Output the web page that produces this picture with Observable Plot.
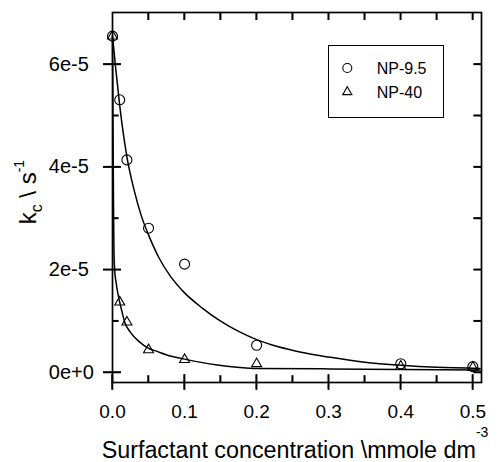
<!DOCTYPE html>
<html>
<head>
<meta charset="utf-8">
<script src="https://cdn.jsdelivr.net/npm/d3@7"></script>
<script src="https://cdn.jsdelivr.net/npm/@observablehq/plot@0.6"></script>
<style>
  html, body { margin: 0; padding: 0; background: #fff; }
</style>
</head>
<body>
<div id="chart"></div>
<script>
// ---- data ----
const seriesNames = ["NP-9.5", "NP-40"];
const conc = [0, 0.01, 0.02, 0.05, 0.1, 0.2, 0.4, 0.5];
const kNP95 = [6.55e-5, 5.31e-5, 4.14e-5, 2.81e-5, 2.11e-5, 0.53e-5, 0.17e-5, 0.115e-5];
const kNP40 = [6.55e-5, 1.37e-5, 0.98e-5, 0.44e-5, 0.25e-5, 0.17e-5, 0.12e-5, 0.10e-5];

// fitted curves
const fitX95 = [0, 0.005, 0.01, 0.015, 0.02, 0.03, 0.04, 0.05, 0.065, 0.08, 0.1, 0.125, 0.15, 0.175, 0.2, 0.23, 0.26, 0.3, 0.35, 0.4, 0.45, 0.51];
const fitY95 = [6.55e-5, 5.85e-5, 5.2e-5, 4.65e-5, 4.2e-5, 3.55e-5, 3.05e-5, 2.68e-5, 2.22e-5, 1.88e-5, 1.55e-5, 1.25e-5, 1.0e-5, 0.8e-5, 0.64e-5, 0.5e-5, 0.4e-5, 0.3e-5, 0.2e-5, 0.14e-5, 0.1e-5, 0.08e-5];
const fitX40 = [0, 0.0005, 0.001, 0.0015, 0.002, 0.003, 0.005, 0.008, 0.012, 0.017, 0.025, 0.037, 0.05, 0.06, 0.08, 0.1, 0.143, 0.196, 0.3, 0.4, 0.51];
const fitY40 = [6.55e-5, 5.3e-5, 4.1e-5, 3.1e-5, 2.4e-5, 2.0e-5, 1.75e-5, 1.5e-5, 1.25e-5, 0.98e-5, 0.78e-5, 0.6e-5, 0.47e-5, 0.42e-5, 0.32e-5, 0.26e-5, 0.15e-5, 0.08e-5, 0.07e-5, 0.06e-5, 0.05e-5];

// ticks
const xTickValues = [0, 0.1, 0.2, 0.3, 0.4, 0.5];
const xTickLabels = ["0.0", "0.1", "0.2", "0.3", "0.4", "0.5"];
const xMinorTicks = [0.05, 0.15, 0.25, 0.35, 0.45];
const xTopTicks = [0.05, 0.1, 0.15, 0.2, 0.25, 0.3, 0.35, 0.4, 0.45, 0.5];
const yTickValues = [0, 2e-5, 4e-5, 6e-5];
const yTickLabels = ["0e+0", "2e-5", "4e-5", "6e-5"];
const yMinorTicks = [1e-5, 3e-5, 5e-5];
const yRightTicks = [0, 1e-5, 2e-5, 3e-5, 4e-5, 5e-5, 6e-5];

const xLabel = "Surfactant concentration \\mmole dm";
const xLabelSup = "-3";
const yLabelParts = ["k", "c", " \\ s", "-1"];

// ---- build tables ----
const pts95 = conc.map((x, i) => ({x, y: kNP95[i]}));
const pts40 = conc.map((x, i) => ({x, y: kNP40[i]}));
const fit95 = fitX95.map((x, i) => ({x, y: fitY95[i]}));
const fit40 = fitX40.map((x, i) => ({x, y: fitY40[i]}));

const FONT = "'Liberation Sans', Arial, Helvetica, sans-serif";
const W = 498, H = 462, ML = 112, MR = 17, MT = 12, MB = 80;
const FW = W - ML - MR, FH = H - MT - MB;
const TK = {stroke: "#000", strokeWidth: 1.6};

const plot = Plot.plot({
  width: W,
  height: H,
  marginLeft: ML,
  marginRight: MR,
  marginTop: MT,
  marginBottom: MB,
  x: {domain: [0, 0.512]},
  y: {domain: [-0.195e-5, 7.01e-5]},
  style: {fontFamily: FONT, color: "black", background: "white"},
  marks: [
    // data
    Plot.line(fit95, {x: "x", y: "y", curve: "monotone-x", stroke: "black", strokeWidth: 1.5}),
    Plot.line(fit40, {x: "x", y: "y", curve: "monotone-x", stroke: "black", strokeWidth: 1.5}),
    Plot.dot(pts95, {x: "x", y: "y", r: 5, symbol: "circle", fill: "none", stroke: "black", strokeWidth: 1.1}),
    Plot.dot(pts40, {x: "x", y: "y", r: 3.7, symbol: "triangle", fill: "none", stroke: "black", strokeWidth: 1.1}),
    // tick labels
    Plot.axisY(yTickValues, {anchor: "left", tickSize: 18, insetLeft: 9, tickPadding: 54.7, textAnchor: "start",
      stroke: "none", tickFormat: d => yTickLabels[yTickValues.indexOf(d)], fontSize: 20, label: null}),
    Plot.axisX(xTickValues, {anchor: "bottom", tickSize: 15.4, insetBottom: 7.7, tickPadding: 14.6,
      stroke: "none", tickFormat: d => xTickLabels[xTickValues.indexOf(d)], fontSize: 19, label: null}),
    Plot.frame({stroke: "black", strokeWidth: 1.7}),
    // tick marks
    Plot.tickY(yTickValues, {y: d => d, insetLeft: -9, insetRight: FW - 9, ...TK}),
    Plot.tickY(yMinorTicks, {y: d => d, insetRight: FW - 6.5, ...TK}),
    Plot.tickY(yRightTicks, {y: d => d, insetLeft: FW - 7.5, ...TK}),
    Plot.tickX(xTickValues, {x: d => d, insetTop: FH - 7.7, insetBottom: -7.7, ...TK}),
    Plot.tickX(xMinorTicks, {x: d => d, insetTop: FH - 6.7, ...TK}),
    Plot.tickX(xTopTicks, {x: d => d, insetBottom: FH - 8, ...TK}),
    // axis titles
    Plot.text([xLabel], {frameAnchor: "bottom", textAnchor: "middle", lineAnchor: "bottom", dy: 75.3, dx: -2,
      fontSize: 23.3, fill: "black"}),
    Plot.text([yLabelParts[0]], {frameAnchor: "left", rotate: -90, textAnchor: "middle", lineAnchor: "bottom",
      dx: -77, dy: -5.4, fontSize: 24, fill: "black"})
  ]
});

document.getElementById("chart").appendChild(plot);
const svg = d3.select(plot);

// backup tick marks as thin filled rects, placed with the plot's own scales
const sx = plot.scale("x"), sy = plot.scale("y");
const X0 = sx.range[0], X1 = sx.range[1], Y0 = sy.range[0], Y1 = sy.range[1];
const tg = svg.append("g").attr("fill", "#000");
const hbar = (xa, xb, y) => tg.append("rect").attr("x", xa).attr("y", y - 0.7).attr("width", xb - xa).attr("height", 1.4);
const vbar = (x, ya, yb) => tg.append("rect").attr("x", x - 0.7).attr("y", ya).attr("width", 1.4).attr("height", yb - ya);
yTickValues.forEach(v => hbar(X0 - 9, X0 + 9, sy.apply(v)));
yMinorTicks.forEach(v => hbar(X0, X0 + 6.5, sy.apply(v)));
yRightTicks.forEach(v => hbar(X1 - 7.5, X1, sy.apply(v)));
xTickValues.forEach(v => vbar(sx.apply(v), Y0 - 7.7, Y0 + 7.7));
xMinorTicks.forEach(v => vbar(sx.apply(v), Y0 - 6.7, Y0));
xTopTicks.forEach(v => vbar(sx.apply(v), Y1, Y1 + 8));

const findText = s => svg.selectAll("text").filter(function () { return this.textContent === s; });

// superscript on the x title
findText(xLabel).append("tspan").attr("dy", -21).attr("font-size", 14).text(xLabelSup);

// subscript / superscript on the y title
const yt = findText(yLabelParts[0]);
yt.append("tspan").attr("dy", 6.7).attr("font-size", 16).text(yLabelParts[1]);
yt.append("tspan").attr("dy", -6.7).attr("font-size", 24).text(yLabelParts[2]);
yt.append("tspan").attr("dy", -12).attr("font-size", 14).text(yLabelParts[3]);

// legend box (top right)
const lg = svg.append("g").attr("font-family", FONT).attr("font-size", 16).attr("fill", "black")
  .attr("text-anchor", "start");
lg.append("rect").attr("x", 328.5).attr("y", 45.5).attr("width", 115).attr("height", 72)
  .attr("fill", "white").attr("stroke", "black").attr("stroke-width", 1);
lg.append("circle").attr("cx", 347.3).attr("cy", 68).attr("r", 4.5)
  .attr("fill", "none").attr("stroke", "black").attr("stroke-width", 1.1);
lg.append("path").attr("transform", "translate(347.3,92)")
  .attr("d", d3.symbol(d3.symbolTriangle, 3.4 * 3.4 * Math.PI)())
  .attr("fill", "none").attr("stroke", "black").attr("stroke-width", 1.1);
lg.append("text").attr("x", 376.7).attr("y", 73.5).text(seriesNames[0]);
lg.append("text").attr("x", 376.7).attr("y", 97.7).text(seriesNames[1]);
</script>
</body>
</html>
